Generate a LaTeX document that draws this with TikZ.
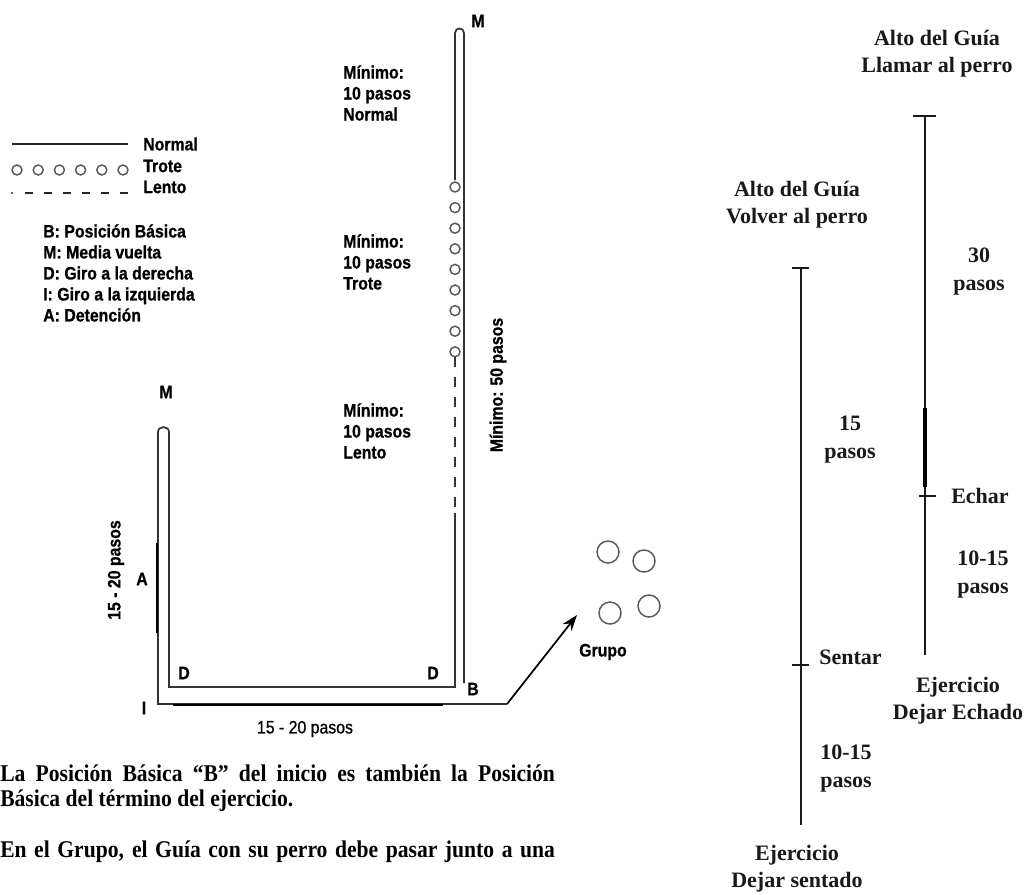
\documentclass[tikz,border=0pt]{standalone}
\usepackage{fontspec}
\usetikzlibrary{arrows.meta}
\newfontfamily\lsans[FakeStretch=0.88,FakeBold=0.8]{Liberation Sans}
\newfontfamily\lserif{Liberation Serif}
\newfontfamily\bserif[FakeStretch=0.9]{Liberation Serif}
\begin{document}
\begin{tikzpicture}[x=0.75pt,y=-0.75pt,
  lab/.style={font=\lsans\bfseries\fontsize{13.5}{15.75}\selectfont, inner sep=0pt, align=left},
  rlab/.style={font=\lserif\bfseries\fontsize{16.5}{20}\selectfont, inner sep=0pt, align=center, text=black!90},
  btxt/.style={font=\bserif\bfseries\fontsize{18}{18}\selectfont, inner sep=0pt, anchor=base west},
  trail/.style={line width=1.3pt, draw=black!80},
  circ/.style={line width=1.1pt, draw=black!65},
  rline/.style={line width=1.4pt, draw=black!90},
  grp/.style={circle, draw=black!65, line width=1.1pt, minimum size=16.5pt, inner sep=0pt}]
\useasboundingbox (0,0) rectangle (1030,894);

% ---------- legend ----------
\coordinate (ln1) at (12,144); \coordinate (ln2) at (128,144);
\draw[line width=1.3pt, draw=black!85] (ln1) -- (ln2);
\node[lab, anchor=west] (lnormal) at (143,144) {Normal};
\foreach \i in {0,...,5} \draw[circ] (17+21.2*\i,170) circle[radius=3.75pt];
\node[lab, anchor=west] (ltrote) at (143,166) {Trote};
\coordinate (ld0) at (12,193);
\fill[black!80] (ld0) circle[radius=0.8pt];
\coordinate (ld1) at (25,193); \coordinate (ld2) at (128,193);
\draw[line width=1.3pt, draw=black!85, dash pattern=on 6pt off 8.25pt] (ld1) -- (ld2);
\node[lab, anchor=west] (llento) at (143,187) {Lento};
\node[lab, anchor=north west, align=left] (legend) at (43,224)
  {B: Posición Básica\\M: Media vuelta\\D: Giro a la derecha\\I: Giro a la izquierda\\A: Detención};

% ---------- route ----------
\coordinate (B0) at (464,683);
\draw[trail] (B0) -- (464,33) .. controls (464,27) and (455,27) .. (455,33) -- (455,180);
\foreach \i in {0,...,8} \draw[circ] (455,187+20.6*\i) circle[radius=3.75pt];
\draw[trail, dash pattern=on 7.5pt off 7.5pt] (455,357) -- (455,510);
\coordinate (iBR) at (455,687);
\coordinate (iBL) at (169,687);
\coordinate (oBL) at (158,704);
\coordinate (corner) at (507,704);
\draw[trail] (455,513) -- (iBR) -- (iBL) -- (169,432)
  .. controls (169,425.5) and (158,425.5) .. (158,432) -- (oBL) -- (corner);
\draw[line width=2pt, black] (157,543) -- (157,633);
\draw[line width=1.6pt, black] (173,705) -- (443,705);
\coordinate (tip) at (577,615);
\draw[line width=1.3pt, black, -{Stealth[length=12pt,width=8.5pt]}] (corner) -- (tip);

% group
\node[grp] (g1) at (608,552) {};
\node[grp] (g2) at (644,561) {};
\node[grp] (g3) at (610,613) {};
\node[grp] (g4) at (649,606) {};
\node[lab] (grupo) at (603,652) {Grupo};

% labels
\node[lab] (m1) at (478,21) {M};
\node[lab] (m2) at (166,392) {M};
\node[lab, anchor=west] (n1) at (343,93) {Mínimo:\\10 pasos\\Normal};
\node[lab, anchor=west] (n2) at (343,262) {Mínimo:\\10 pasos\\Trote};
\node[lab, anchor=west] (n3) at (343,431) {Mínimo:\\10 pasos\\Lento};
\node[lab, rotate=90] (m50) at (498,385) {Mínimo: 50 pasos};
\node[lab, rotate=90] (p1520) at (116,570) {15 - 20 pasos};
\node[lab] (A) at (142,579) {A};
\node[lab] (D1) at (184,673) {D};
\node[lab] (D2) at (433,673) {D};
\node[lab] (Bl) at (473,689) {B};
\node[lab] (Il) at (144,708) {I};
\node[lab, font=\lsans\fontsize{13.5}{15}\selectfont] (p1520b) at (305,729) {15 - 20 pasos};

% ---------- right diagram ----------
\coordinate (Rt) at (925,116); \coordinate (Rb) at (925,655);
\draw[rline] (Rt) -- (Rb);
\draw[rline] (913,116) -- (936,116);
\draw[line width=2.4pt, black] (925,408) -- (925,487);
\draw[rline] (919,496) -- (936,496);
\coordinate (Lt) at (801,268); \coordinate (Lb) at (801,825);
\draw[rline] (Lt) -- (Lb);
\draw[rline] (792,268) -- (809,268);
\draw[rline] (792,665) -- (809,665);

\node[rlab] (t1) at (937,54) {Alto del Guía\\Llamar al perro};
\node[rlab] (t2) at (797,205) {Alto del Guía\\Volver al perro};
\node[rlab, font=\lserif\bfseries\fontsize{16.5}{21}\selectfont] (p30) at (979,272) {30\\pasos};
\node[rlab, font=\lserif\bfseries\fontsize{16.5}{21}\selectfont] (p15) at (850,440) {15\\pasos};
\node[rlab] (echar) at (980,496) {Echar};
\node[rlab, font=\lserif\bfseries\fontsize{16.5}{21}\selectfont] (p1015a) at (983,575) {10-15\\pasos};
\node[rlab, anchor=west] (sentar) at (819,657) {Sentar};
\node[rlab] (ej1) at (958,701) {Ejercicio\\Dejar Echado};
\node[rlab, font=\lserif\bfseries\fontsize{16.5}{21}\selectfont] (p1015b) at (846,769) {10-15\\pasos};
\node[rlab] (ej2) at (797,869) {Ejercicio\\Dejar sentado};

% ---------- bottom text ----------
\node[btxt] (bt1) at (0,781) {\makebox[416pt][s]{La Posición Básica “B” del inicio es también la Posición}};
\node[btxt] (bt2) at (0,806) {Básica del término del ejercicio.};
\node[btxt] (bt3) at (0,857) {\makebox[416pt][s]{En el Grupo, el Guía con su perro debe pasar junto a una}};
\end{tikzpicture}
\end{document}
